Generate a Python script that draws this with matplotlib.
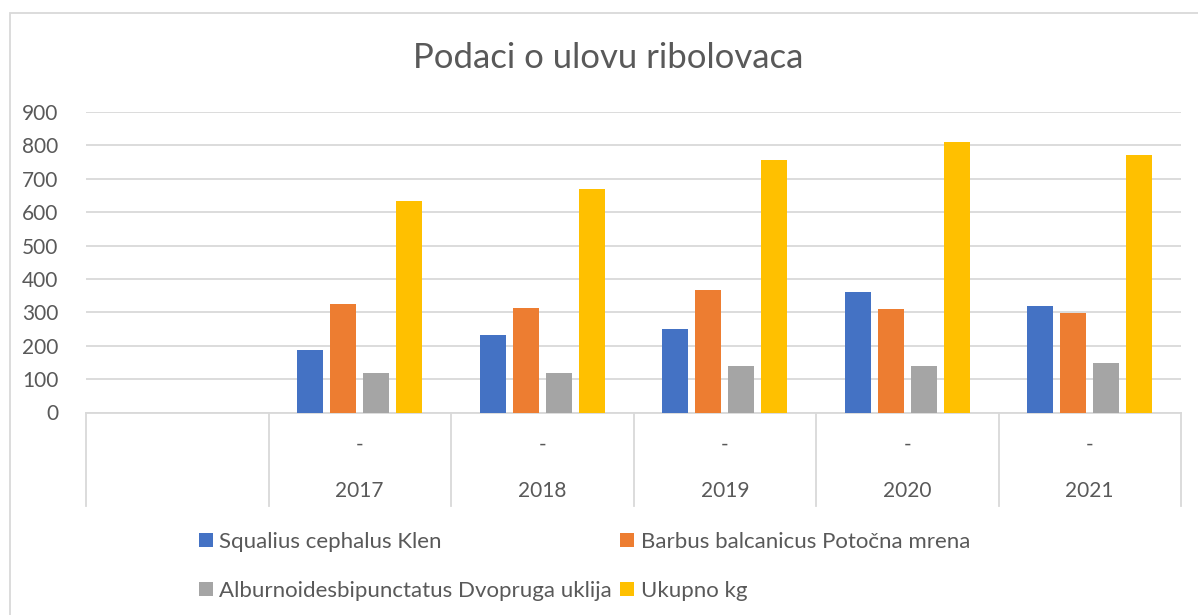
import matplotlib.pyplot as plt
from matplotlib.patches import Rectangle
import matplotlib.transforms as mtransforms
import numpy as np

plt.rcParams['font.family'] = ['Lato', 'DejaVu Sans']

years = ['', '2017', '2018', '2019', '2020', '2021']
sub_labels = ['', '-', '-', '-', '-', '-']
series_names = ['Squalius cephalus Klen', 'Barbus balcanicus Potočna mrena',
                'Alburnoidesbipunctatus Dvopruga uklija', 'Ukupno kg']
klen = [np.nan, 186, 233, 250, 360, 320]
mrena = [np.nan, 325, 314, 366, 309, 299]
uklija = [np.nan, 119, 119, 138, 139, 148]
ukupno = [np.nan, 632, 670, 756, 811, 772]
colors = ['#4472C4', '#ED7D31', '#A5A5A5', '#FFC000']

W, H = 1198, 615
text_col = '#595959'
line_col = '#D9D9D9'

fig = plt.figure(figsize=(W / 100, H / 100), dpi=100)
# outer chart border (cut off on the right and bottom)
fig.patches.append(Rectangle((10 / W, -0.1), 1.1, (H - 12.7) / H + 0.1,
                             transform=fig.transFigure, fill=False,
                             edgecolor=line_col, linewidth=1.3))

x0, x1, y0, y1 = 86, 1181, 412.5, 112
ax = fig.add_axes([x0 / W, (H - y0) / H, (x1 - x0) / W, (y0 - y1) / H])

x = np.arange(len(years))
step, width = 0.181, 0.143
for k, (vals, name) in enumerate(zip([klen, mrena, uklija, ukupno], series_names)):
    ax.bar(x + (k - 1.5) * step, vals, width, color=colors[k], label=name, zorder=3)

ax.set_xlim(-0.5, len(years) - 0.5)
ax.set_ylim(0, 900)
ax.set_yticks(range(0, 901, 100))
ax.yaxis.grid(True, color=line_col, linewidth=1.3, zorder=0)
ax.tick_params(axis='y', length=0, labelsize=15, labelcolor=text_col, pad=20)
ax.set_xticks([])
for side in ['left', 'right', 'top']:
    ax.spines[side].set_visible(False)
ax.spines['bottom'].set_color(line_col)
ax.spines['bottom'].set_linewidth(1.3)

# multi-level category axis
trans = mtransforms.blended_transform_factory(ax.transData, ax.transAxes)
ah = y0 - y1
y_low = (y0 - 506) / ah
for xb in np.arange(-0.5, len(years), 1.0):
    ax.plot([xb, xb], [0, y_low], color=line_col, linewidth=1.3,
            transform=trans, clip_on=False)
for xi, sl, yr in zip(x, sub_labels, years):
    ax.text(xi, (y0 - 445) / ah, sl, transform=trans, ha='center', va='center',
            fontsize=15, color=text_col)
    ax.text(xi, (y0 - 491) / ah, yr, transform=trans, ha='center', va='center',
            fontsize=15, color=text_col)

fig.text(608 / W, 1 - 58 / H, 'Podaci o ulovu ribolovaca', ha='center', va='center',
         fontsize=25, color=text_col)

handles, labels = ax.get_legend_handles_labels()
order = [0, 2, 1, 3]
leg = fig.legend([handles[i] for i in order], [labels[i] for i in order], ncol=2,
                 loc='upper left', bbox_to_anchor=(199 / W, 1 - 532 / H),
                 frameon=False, fontsize=16, labelcolor=text_col,
                 handlelength=0.62, handleheight=0.62, handletextpad=0.3,
                 columnspacing=0.36, labelspacing=1.3, borderpad=0, borderaxespad=0)

fig.savefig('out.png', dpi=100)
